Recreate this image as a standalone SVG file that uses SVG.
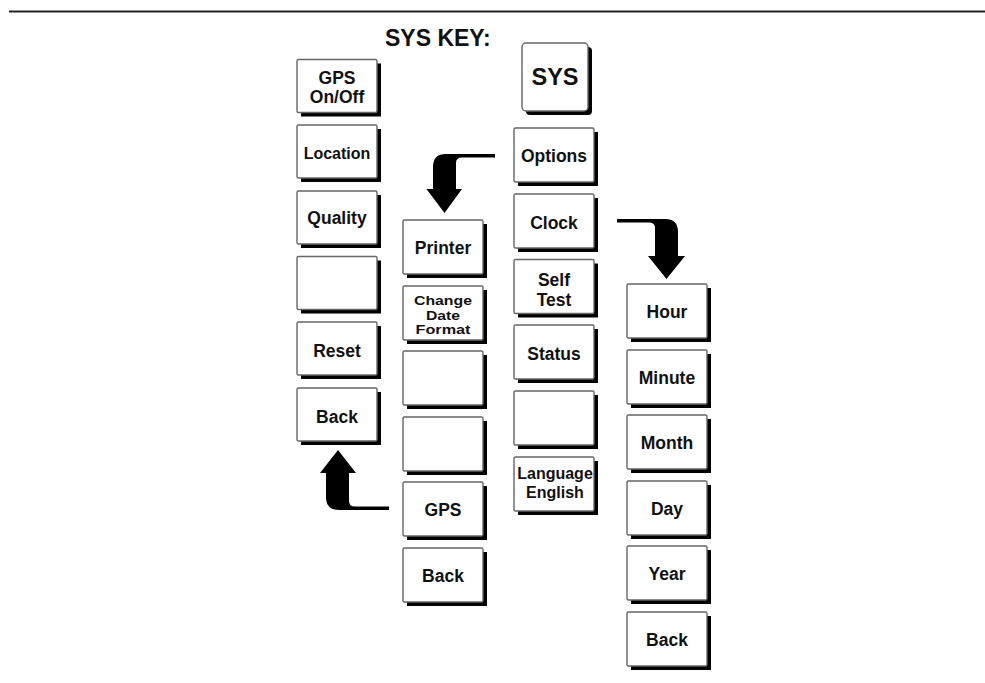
<svg xmlns="http://www.w3.org/2000/svg" width="985" height="683" viewBox="0 0 985 683">
<defs>
<style>
.sh{fill:#000}
.bd{fill:#fff;stroke:#666;stroke-width:1.4}
.t{font-family:"Liberation Sans",Arial,sans-serif;font-weight:bold;font-size:17.5px;fill:#111;text-anchor:middle}
.s{font-size:12.8px}
.m{font-size:16px}
.title{font-family:"Liberation Sans",Arial,sans-serif;font-weight:bold;font-size:23px;fill:#111}
.arr{fill:#000}
</style>
</defs>
<rect width="985" height="683" fill="#fff"/>
<line x1="9" y1="11.5" x2="985" y2="11.5" stroke="#222" stroke-width="2.2"/>
<text class="title" x="385" y="46">SYS KEY:</text>

<g id="sys">
<rect class="sh" x="526" y="47" width="66" height="68" rx="4"/>
<rect class="bd" x="522" y="43" width="66" height="68" rx="4"/>
<text class="t" x="555" y="85" style="font-size:23.5px">SYS</text>
</g>

<!-- Left column -->
<g id="gps-onoff"><rect class="sh" x="301" y="63.5" width="80" height="53"/><rect class="bd" x="297" y="59.5" width="80" height="53" rx="1.5"/><text class="t" x="337" y="84">GPS</text><text class="t" x="337" y="103">On/Off</text></g>
<g id="location"><rect class="sh" x="301" y="129" width="80" height="53"/><rect class="bd" x="297" y="125" width="80" height="53" rx="1.5"/><text class="t m" x="337" y="159">Location</text></g>
<g id="quality"><rect class="sh" x="301" y="195" width="80" height="53"/><rect class="bd" x="297" y="191" width="80" height="53" rx="1.5"/><text class="t" x="337" y="224">Quality</text></g>
<g id="left-blank"><rect class="sh" x="301" y="260.5" width="80" height="53"/><rect class="bd" x="297" y="256.5" width="80" height="53" rx="1.5"/></g>
<g id="reset"><rect class="sh" x="301" y="326" width="80" height="53"/><rect class="bd" x="297" y="322" width="80" height="53" rx="1.5"/><text class="t" x="337" y="357">Reset</text></g>
<g id="left-back"><rect class="sh" x="301" y="392" width="80" height="53"/><rect class="bd" x="297" y="388" width="80" height="53" rx="1.5"/><text class="t" x="337" y="423">Back</text></g>

<!-- Middle column -->
<g id="printer"><rect class="sh" x="407" y="224" width="80" height="54"/><rect class="bd" x="403" y="220" width="80" height="54" rx="1.5"/><text class="t" x="443" y="254">Printer</text></g>
<g id="change-date-format"><rect class="sh" x="407" y="290" width="80" height="54"/><rect class="bd" x="403" y="286" width="80" height="54" rx="1.5"/><text class="t s" x="443" y="305" textLength="58" lengthAdjust="spacingAndGlyphs">Change</text><text class="t s" x="443" y="319.5" textLength="34" lengthAdjust="spacingAndGlyphs">Date</text><text class="t s" x="443" y="334" textLength="55" lengthAdjust="spacingAndGlyphs">Format</text></g>
<g id="mid-blank-1"><rect class="sh" x="407" y="355" width="80" height="54"/><rect class="bd" x="403" y="351" width="80" height="54" rx="1.5"/></g>
<g id="mid-blank-2"><rect class="sh" x="407" y="421" width="80" height="54"/><rect class="bd" x="403" y="417" width="80" height="54" rx="1.5"/></g>
<g id="gps"><rect class="sh" x="407" y="486" width="80" height="54"/><rect class="bd" x="403" y="482" width="80" height="54" rx="1.5"/><text class="t" x="443" y="516">GPS</text></g>
<g id="mid-back"><rect class="sh" x="407" y="552" width="80" height="54"/><rect class="bd" x="403" y="548" width="80" height="54" rx="1.5"/><text class="t" x="443" y="582">Back</text></g>

<!-- Right column -->
<g id="options"><rect class="sh" x="518" y="132" width="80" height="54"/><rect class="bd" x="514" y="128" width="80" height="54" rx="1.5"/><text class="t" x="554" y="162">Options</text></g>
<g id="clock"><rect class="sh" x="518" y="198" width="80" height="54"/><rect class="bd" x="514" y="194" width="80" height="54" rx="1.5"/><text class="t" x="554" y="229">Clock</text></g>
<g id="self-test"><rect class="sh" x="518" y="263.5" width="80" height="54"/><rect class="bd" x="514" y="259.5" width="80" height="54" rx="1.5"/><text class="t" x="554" y="286">Self</text><text class="t" x="554" y="306">Test</text></g>
<g id="status"><rect class="sh" x="518" y="329" width="80" height="54"/><rect class="bd" x="514" y="325" width="80" height="54" rx="1.5"/><text class="t" x="554" y="360">Status</text></g>
<g id="right-blank"><rect class="sh" x="518" y="395" width="80" height="54"/><rect class="bd" x="514" y="391" width="80" height="54" rx="1.5"/></g>
<g id="language"><rect class="sh" x="518" y="461" width="80" height="54"/><rect class="bd" x="514" y="457" width="80" height="54" rx="1.5"/><text class="t m" x="555" y="479">Language</text><text class="t m" x="555" y="498">English</text></g>

<!-- Far right column -->
<g id="hour"><rect class="sh" x="631" y="288" width="80" height="54"/><rect class="bd" x="627" y="284" width="80" height="54" rx="1.5"/><text class="t" x="667" y="318">Hour</text></g>
<g id="minute"><rect class="sh" x="631" y="354" width="80" height="54"/><rect class="bd" x="627" y="350" width="80" height="54" rx="1.5"/><text class="t" x="667" y="384">Minute</text></g>
<g id="month"><rect class="sh" x="631" y="419" width="80" height="54"/><rect class="bd" x="627" y="415" width="80" height="54" rx="1.5"/><text class="t" x="667" y="449">Month</text></g>
<g id="day"><rect class="sh" x="631" y="485" width="80" height="54"/><rect class="bd" x="627" y="481" width="80" height="54" rx="1.5"/><text class="t" x="667" y="515">Day</text></g>
<g id="year"><rect class="sh" x="631" y="550" width="80" height="54"/><rect class="bd" x="627" y="546" width="80" height="54" rx="1.5"/><text class="t" x="667" y="580">Year</text></g>
<g id="far-back"><rect class="sh" x="631" y="616" width="80" height="54"/><rect class="bd" x="627" y="612" width="80" height="54" rx="1.5"/><text class="t" x="667" y="646">Back</text></g>

<g id="connectors">
<path class="arr" d="M 495 154 L 446 154 Q 433 154 433 167 L 433 189 L 426.5 189 L 444.5 213 L 462 189 L 456 189 L 456 163 Q 456 157.5 462 157.5 L 495 157.5 Z"/>
<path class="arr" d="M 617 219 L 665 219 Q 678 219 678 232 L 678 256 L 685 256 L 666.5 279 L 648 256 L 655 256 L 655 228 Q 655 222.5 649 222.5 L 617 222.5 Z"/>
<path class="arr" d="M 389 510 L 339 510 Q 326 510 326 497 L 326 473 L 320 473 L 338 450 L 356 473 L 349 473 L 349 501 Q 349 506.5 355 506.5 L 389 506.5 Z"/>
</g>
</svg>
